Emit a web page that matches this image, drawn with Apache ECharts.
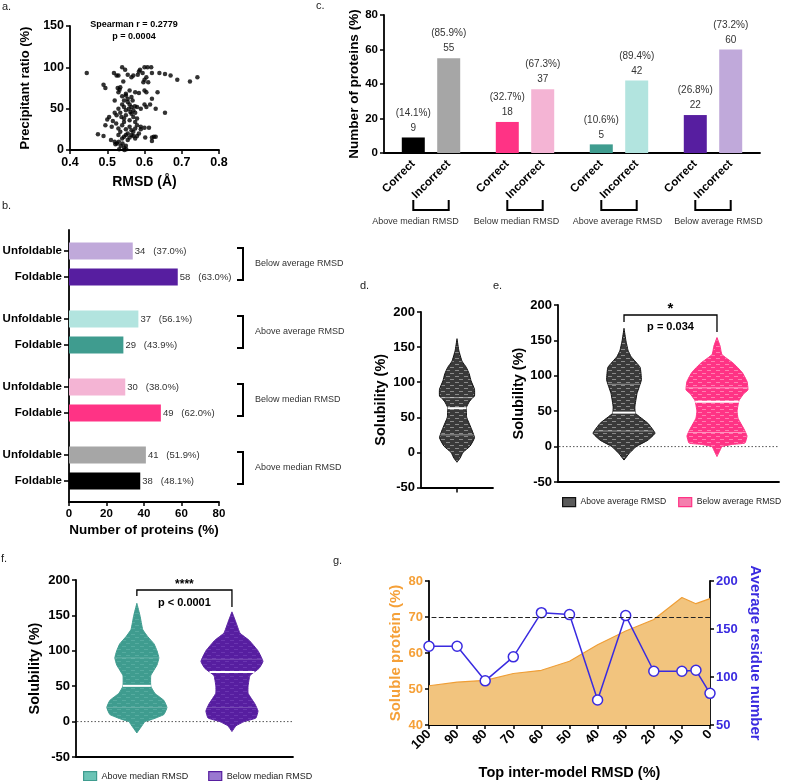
<!DOCTYPE html>
<html><head><meta charset="utf-8">
<script src="https://cdn.jsdelivr.net/npm/echarts/dist/echarts.min.js"></script>
<style>html,body{margin:0;padding:0;background:#fff}#c{width:787px;height:781px}</style>
</head><body><div id="c"></div>
<script>
const FONT = '"Liberation Sans", Arial, Helvetica, sans-serif';

// ---------- Panel a: scatter ----------
const rmsdA = [0.445,0.475,0.490,0.490,0.495,0.495,0.500,0.505,0.510,0.512,0.515,0.518,0.520,0.520,0.520,0.522,0.524,0.525,0.525,0.526,
0.528,0.530,0.530,0.530,0.530,0.530,0.531,0.532,0.533,0.535,0.535,0.535,0.536,0.538,0.540,0.540,0.540,0.540,0.540,0.541,
0.543,0.545,0.545,0.545,0.545,0.545,0.545,0.546,0.548,0.550,0.550,0.550,0.550,0.550,0.550,0.550,0.551,0.555,0.555,0.555,
0.555,0.555,0.558,0.560,0.560,0.560,0.560,0.560,0.562,0.565,0.565,0.565,0.565,0.565,0.565,0.568,0.570,0.570,0.570,0.570,
0.570,0.574,0.575,0.575,0.575,0.575,0.575,0.580,0.580,0.580,0.580,0.582,0.585,0.585,0.585,0.588,0.590,0.590,0.590,0.595,
0.597,0.600,0.600,0.600,0.600,0.600,0.602,0.605,0.605,0.605,0.608,0.610,0.612,0.615,0.618,0.620,0.620,0.620,0.620,0.625,
0.630,0.630,0.635,0.640,0.655,0.655,0.670,0.688,0.722,0.742];
const precipA = [93,19,17,79,75,30,37,40,12,28,35,93,60,45,10,7,32,90,42,8,
75,90,70,50,26,18,10,1,73,76,45,22,5,40,100,65,55,30,14,8,
83,60,52,38,34,16,3,0,97,68,66,48,42,25,18,5,1,91,62,58,
20,12,50,72,55,36,28,15,46,88,64,52,44,24,18,60,90,48,40,22,
17,53,70,45,34,26,14,52,38,30,17,91,95,69,20,97,50,28,25,93,
82,100,85,72,55,27,15,88,70,52,100,82,27,55,100,93,62,15,11,16,
50,16,70,93,92,45,90,85,83,88];

// ---------- Panel b: horizontal bars ----------
const bGroups = ['Above median RMSD','Below median RMSD','Above average RMSD','Below average RMSD'];
const bFoldable = [38,49,29,58];
const bFoldablePct = ['48.1%','62.0%','43.9%','63.0%'];
const bUnfoldable = [41,30,37,34];
const bUnfoldablePct = ['51.9%','38.0%','56.1%','37.0%'];
const bTickLabels = ['Foldable','Unfoldable'];

// ---------- Panel c: vertical bars ----------
const cGroups = ['Above median RMSD','Below median RMSD','Above average RMSD','Below average RMSD'];
const cCorrect = [9,18,5,22];
const cCorrectPct = ['14.1%','32.7%','10.6%','26.8%'];
const cIncorrect = [55,37,42,60];
const cIncorrectPct = ['85.9%','67.3%','89.4%','73.2%'];
const cTickLabels = ['Correct','Incorrect'];

// ---------- Panels d, e, f: violin profiles (solubility level, relative density) ----------
const dLevels  = [-14,-8,0,9,21,35,50,64,72,78,80,90,102,112,121,130,145,162];
const dDensity = [0,0.10,0.19,0.42,0.56,0.45,0.31,0.30,0.39,0.50,0.56,0.56,0.45,0.39,0.30,0.16,0.06,0];
const dMedian = 63, dQuartiles = [25,78];

const eCats = ['Above average RMSD','Below average RMSD'];
const eALevels  = [-19,-10,0,9,19,33,47,56,75,94,112,127,136,150,167];
const eADensity = [0,0.16,0.39,0.77,1.0,0.77,0.37,0.35,0.42,0.56,0.52,0.23,0.13,0.06,0];
const eAMedian = 48, eAQuartiles = [22,88];
const eBLevels  = [-14,-5,0,3,5,15,25,40,50,65,75,80,92,105,118,130,142,154];
const eBDensity = [0,0.10,0.16,0.48,0.90,0.97,0.87,0.68,0.65,0.71,0.87,1.0,0.97,0.81,0.52,0.16,0.10,0];
const eBMedian = 63.5, eBQuartiles = [20,83];

const fCats = ['Above median RMSD','Below median RMSD'];
const fALevels  = [-16,-8,0,3,10,20,30,40,50,65,80,90,100,110,120,130,150,167];
const fADensity = [0,0.13,0.26,0.48,0.87,0.97,0.87,0.58,0.45,0.45,0.65,0.71,0.65,0.55,0.35,0.19,0.10,0];
const fAMedian = 50.5, fAQuartiles = [20,90];
const fBLevels  = [-14,-6,0,5,15,25,40,50,65,75,85,100,115,125,140,155];
const fBDensity = [0,0.13,0.39,0.77,0.84,0.74,0.52,0.52,0.58,0.87,1.0,0.84,0.55,0.26,0.13,0];
const fBMedian = 70, fBQuartiles = [20,88];

// ---------- Panel g ----------
const gTopRmsd  = [100,90,80,70,60,50,40,30,20,10,5,0];
const gSoluble  = [50.9,51.9,52.4,54.3,55.2,57.7,62.3,66.1,69.3,75.4,73.7,75.1];
const gResidues = [132,132,96,121,167,165,76,164,106,106,107,83];
const gThreshold = 70;

// ---------- styles ----------
const darkColors  = ['#000000','#FF3385','#3F9C8F','#571EA0'];
const lightColors = ['#A6A6A6','#F4B4D4','#B2E4DF','#C0A9DA'];
const ORANGE = '#F5A038', BLUE = '#3A2BE0';

// small fixed texture tiles imitating the plotted points inside the violins
function texture(bg, fg){
  const cv = document.createElement('canvas');
  cv.width = 9; cv.height = 6;
  const ctx = cv.getContext('2d');
  ctx.fillStyle = bg; ctx.fillRect(0,0,9,6);
  ctx.strokeStyle = fg; ctx.lineWidth = 1;
  ctx.beginPath(); ctx.moveTo(0,1.5); ctx.lineTo(4,1.5); ctx.moveTo(5,4.5); ctx.lineTo(9,4.5); ctx.stroke();
  return {image: cv, repeat: 'repeat'};
}

function axisLine(){ return {show:true, onZero:false, lineStyle:{color:'#000', width:1.8}}; }
function axisTick(){ return {show:true, length:4, lineStyle:{color:'#000', width:1.5}}; }
function lbl(size, color){ return {color: color||'#000', fontWeight:'bold', fontSize:size, fontFamily:FONT, margin:6}; }
function nameStyle(size, color){ return {color: color||'#000', fontWeight:'bold', fontSize:size, fontFamily:FONT}; }

function violin(levels, dens, k, median, quart, fill, stroke, qColor){
  function densAt(v){
    for (let i=0;i<levels.length-1;i++){
      if (v>=levels[i] && v<=levels[i+1]){ const t=(v-levels[i])/(levels[i+1]-levels[i]); return dens[i]+(dens[i+1]-dens[i])*t; }
    }
    return 0;
  }
  return function(params, api){
    const cat = api.value(0);
    const unit = api.size([1,0])[0];
    const L=[], R=[];
    for (let i=0;i<levels.length;i++){
      const c = api.coord([cat, levels[i]]);
      const w = dens[i]*unit*k;
      L.push([c[0]-w, c[1]]); R.push([c[0]+w, c[1]]);
    }
    const pts = L.concat(R.reverse());
    const children = [{type:'polygon', shape:{points:pts, smooth:0.12}, style:{fill:fill, stroke:stroke, lineWidth:1}}];
    quart.forEach(function(q){
      const c = api.coord([cat,q]); const w = densAt(q)*unit*k;
      children.push({type:'line', shape:{x1:c[0]-w, y1:c[1], x2:c[0]+w, y2:c[1]}, style:{stroke:qColor, lineWidth:1}});
    });
    const m = api.coord([cat, median]); const wm = densAt(median)*unit*k;
    children.push({type:'line', shape:{x1:m[0]-wm, y1:m[1], x2:m[0]+wm, y2:m[1]}, style:{stroke:'#fff', lineWidth:2}});
    return {type:'group', children:children};
  };
}

const solAxis = function(gi, gap){
  return {type:'value', gridIndex:gi, min:-50, max:200, interval:50, splitLine:{show:false},
    axisLine:axisLine(), axisTick:axisTick(), axisLabel:lbl(13),
    name:'Solubility (%)', nameLocation:'middle', nameGap:gap, nameTextStyle:nameStyle(14.5)};
};

const option = {
  animation:false,
  backgroundColor:'#fff',
  textStyle:{fontFamily:FONT},
  grid:[
    {left:70, top:26, width:149, height:124},
    {left:69, top:230, width:150, height:272},
    {left:384, top:15, width:376, height:138},
    {left:421, top:312, width:72, height:175.5},
    {left:558, top:305, width:221, height:177},
    {left:76, top:580, width:217, height:177},
    {left:429, top:581, width:281, height:145}
  ],
  xAxis:[
    {type:'value', gridIndex:0, min:0.4, max:0.8, interval:0.1, splitLine:{show:false}, axisLine:axisLine(), axisTick:axisTick(),
     axisLabel:Object.assign(lbl(12.5),{formatter:function(v){return v.toFixed(1);}}),
     name:'RMSD (Å)', nameLocation:'middle', nameGap:25, nameTextStyle:nameStyle(14)},
    {type:'value', gridIndex:1, min:0, max:80, interval:20, splitLine:{show:false}, axisLine:axisLine(), axisTick:axisTick(),
     axisLabel:lbl(11.5), name:'Number of proteins (%)', nameLocation:'middle', nameGap:21, nameTextStyle:nameStyle(13.5)},
    {type:'category', gridIndex:2, data:cGroups, axisLine:axisLine(), axisTick:{show:false}, axisLabel:{show:false}},
    {type:'category', gridIndex:3, data:['All proteins'], axisLine:axisLine(), axisTick:{show:true, alignWithLabel:true, length:5, lineStyle:{color:'#000', width:1.5}}, axisLabel:{show:false}},
    {type:'value', gridIndex:4, min:-0.71, max:1.667, axisLine:axisLine(), axisTick:{show:false}, axisLabel:{show:false}, splitLine:{show:false}},
    {type:'value', gridIndex:5, min:-0.64, max:1.642, axisLine:axisLine(), axisTick:{show:false}, axisLabel:{show:false}, splitLine:{show:false}},
    {type:'value', gridIndex:6, min:0, max:100, interval:10, inverse:true, splitLine:{show:false}, axisLine:axisLine(), axisTick:axisTick(),
     axisLabel:Object.assign(lbl(13),{rotate:45, margin:7}),
     name:'Top inter-model RMSD (%)', nameLocation:'middle', nameGap:40, nameTextStyle:nameStyle(14.5)}
  ],
  yAxis:[
    {type:'value', gridIndex:0, min:0, max:150, interval:50, splitLine:{show:false}, axisLine:axisLine(), axisTick:axisTick(),
     axisLabel:lbl(12.5), name:'Precipitant ratio (%)', nameLocation:'middle', nameGap:38, nameTextStyle:nameStyle(13)},
    {type:'category', gridIndex:1, data:bGroups, axisLine:axisLine(), axisTick:{show:false}, axisLabel:{show:false}},
    {type:'value', gridIndex:2, min:0, max:80, interval:20, splitLine:{show:false}, axisLine:axisLine(), axisTick:axisTick(),
     axisLabel:lbl(11.5), name:'Number of proteins (%)', nameLocation:'middle', nameGap:20, nameTextStyle:nameStyle(13.5)},
    solAxis(3, 33),
    solAxis(4, 26),
    solAxis(5, 34),
    {type:'value', gridIndex:6, position:'left', min:40, max:80, interval:10, splitLine:{show:false}, axisLine:axisLine(), axisTick:axisTick(),
     axisLabel:lbl(13, ORANGE), name:'Soluble protein (%)', nameLocation:'middle', nameGap:26, nameTextStyle:nameStyle(15, ORANGE)},
    {type:'value', gridIndex:6, position:'right', min:50, max:200, interval:50, splitLine:{show:false}, axisLine:axisLine(), axisTick:axisTick(),
     axisLabel:lbl(13, BLUE), name:'Average residue number', nameLocation:'middle', nameRotate:-90, nameGap:38, nameTextStyle:nameStyle(15, BLUE)}
  ],
  legend:[
    {selectedMode:false, orient:'horizontal', left:562, top:497, width:300, itemWidth:13, itemHeight:9, itemGap:12, icon:'rect', padding:0,
     textStyle:{fontSize:8.6, color:'#222', fontFamily:FONT},
     data:[{name:eCats[0], itemStyle:{color:'#5a5a5a', borderColor:'#111', borderWidth:1.2}},
           {name:eCats[1], itemStyle:{color:'#F47FAE', borderColor:'#FF3385', borderWidth:1.2}}]},
    {selectedMode:false, orient:'horizontal', left:83, top:771, width:300, itemWidth:13, itemHeight:9, itemGap:20, icon:'rect', padding:0,
     textStyle:{fontSize:9, color:'#222', fontFamily:FONT},
     data:[{name:fCats[0], itemStyle:{color:'#6CC4B6', borderColor:'#3F9C8F', borderWidth:1.2}},
           {name:fCats[1], itemStyle:{color:'#9A78D0', borderColor:'#571EA0', borderWidth:1.2}}]}
  ],
  series:[
    {type:'scatter', xAxisIndex:0, yAxisIndex:0, symbolSize:4.5, itemStyle:{color:'#000'},
     data: rmsdA.map(function(x,i){return [x, precipA[i]];})},

    // panel b (Unfoldable stack first so it sits above Foldable)
    {type:'bar', xAxisIndex:1, yAxisIndex:1, stack:'bu', barWidth:17, barGap:'53%', silent:true,
     data: bUnfoldable.map(function(){return 0;}), itemStyle:{color:'rgba(0,0,0,0)'},
     label:{show:true, position:'left', distance:0, formatter:'{a|'+bTickLabels[1]+'}{t|}',
       rich:{a:{fontWeight:'bold', fontSize:11.5, color:'#000', fontFamily:FONT, padding:[0,2,0,0]}, t:{width:5, height:1.6, backgroundColor:'#000'}}}},
    {type:'bar', name:'Unfoldable', xAxisIndex:1, yAxisIndex:1, stack:'bu', barWidth:17, barGap:'53%',
     data: bUnfoldable.map(function(v,i){return {value:v, itemStyle:{color:lightColors[i]}};}),
     label:{show:true, position:'right', distance:2, fontSize:9.5, color:'#333', fontFamily:FONT,
       formatter:function(p){return p.value+'   ('+bUnfoldablePct[p.dataIndex]+')';}}},
    {type:'bar', xAxisIndex:1, yAxisIndex:1, stack:'bf', barWidth:17, barGap:'53%', silent:true,
     data: bFoldable.map(function(){return 0;}), itemStyle:{color:'rgba(0,0,0,0)'},
     label:{show:true, position:'left', distance:0, formatter:'{a|'+bTickLabels[0]+'}{t|}',
       rich:{a:{fontWeight:'bold', fontSize:11.5, color:'#000', fontFamily:FONT, padding:[0,2,0,0]}, t:{width:5, height:1.6, backgroundColor:'#000'}}}},
    {type:'bar', name:'Foldable', xAxisIndex:1, yAxisIndex:1, stack:'bf', barWidth:17, barGap:'53%',
     data: bFoldable.map(function(v,i){return {value:v, itemStyle:{color:darkColors[i]}};}),
     label:{show:true, position:'right', distance:2, fontSize:9.5, color:'#333', fontFamily:FONT,
       formatter:function(p){return p.value+'   ('+bFoldablePct[p.dataIndex]+')';}}},

    // panel c
    {type:'bar', xAxisIndex:2, yAxisIndex:2, stack:'cc', barWidth:23, barGap:'54%', silent:true,
     data: cCorrect.map(function(){return 0;}), itemStyle:{color:'rgba(0,0,0,0)'},
     label:{show:true, position:'bottom', distance:9, rotate:45, align:'right', verticalAlign:'middle',
       formatter:cTickLabels[0], fontWeight:'bold', fontSize:11.5, color:'#000', fontFamily:FONT}},
    {type:'bar', name:'Correct', xAxisIndex:2, yAxisIndex:2, stack:'cc', barWidth:23, barGap:'54%',
     data: cCorrect.map(function(v,i){return {value:v, itemStyle:{color:darkColors[i]}};}),
     label:{show:true, position:'top', distance:2, fontSize:10, lineHeight:15, color:'#333', fontFamily:FONT,
       formatter:function(p){return '('+cCorrectPct[p.dataIndex]+')\n'+p.value;}}},
    {type:'bar', xAxisIndex:2, yAxisIndex:2, stack:'ci', barWidth:23, barGap:'54%', silent:true,
     data: cIncorrect.map(function(){return 0;}), itemStyle:{color:'rgba(0,0,0,0)'},
     label:{show:true, position:'bottom', distance:9, rotate:45, align:'right', verticalAlign:'middle',
       formatter:cTickLabels[1], fontWeight:'bold', fontSize:11.5, color:'#000', fontFamily:FONT}},
    {type:'bar', name:'Incorrect', xAxisIndex:2, yAxisIndex:2, stack:'ci', barWidth:23, barGap:'54%',
     data: cIncorrect.map(function(v,i){return {value:v, itemStyle:{color:lightColors[i]}};}),
     label:{show:true, position:'top', distance:2, fontSize:10, lineHeight:15, color:'#333', fontFamily:FONT,
       formatter:function(p){return '('+cIncorrectPct[p.dataIndex]+')\n'+p.value;}}},

    // violins
    {type:'custom', name:'All proteins', xAxisIndex:3, yAxisIndex:3, silent:true, data:[[0, dMedian]], encode:{x:0, y:1},
     renderItem: violin(dLevels, dDensity, 0.434, dMedian, dQuartiles, texture('#3a3a3a','#8a8a8a'), '#111', 'rgba(255,255,255,0.5)')},
    {type:'custom', name:eCats[0], xAxisIndex:4, yAxisIndex:4, silent:true, data:[[0, eAMedian]], encode:{x:0, y:1},
     itemStyle:{color:'#5a5a5a'},
     renderItem: violin(eALevels, eADensity, 0.333, eAMedian, eAQuartiles, texture('#3a3a3a','#8a8a8a'), '#111', 'rgba(255,255,255,0.45)')},
    {type:'custom', name:eCats[1], xAxisIndex:4, yAxisIndex:4, silent:true, data:[[1, eBMedian]], encode:{x:0, y:1},
     itemStyle:{color:'#F47FAE'},
     renderItem: violin(eBLevels, eBDensity, 0.333, eBMedian, eBQuartiles, texture('#FF3385','#FF7FB0'), '#FF3385', 'rgba(255,255,255,0.5)')},
    {type:'custom', name:fCats[0], xAxisIndex:5, yAxisIndex:5, silent:true, data:[[0, fAMedian]], encode:{x:0, y:1},
     itemStyle:{color:'#6CC4B6'},
     renderItem: violin(fALevels, fADensity, 0.326, fAMedian, fAQuartiles, texture('#3F9C8F','#55AB9F'), '#3F9C8F', 'rgba(255,255,255,0.2)')},
    {type:'custom', name:fCats[1], xAxisIndex:5, yAxisIndex:5, silent:true, data:[[1, fBMedian]], encode:{x:0, y:1},
     itemStyle:{color:'#9A78D0'},
     renderItem: violin(fBLevels, fBDensity, 0.326, fBMedian, fBQuartiles, texture('#571EA0','#6A35B0'), '#571EA0', 'rgba(255,255,255,0.2)')},

    // panel g
    {type:'line', xAxisIndex:6, yAxisIndex:6, symbol:'none', z:2,
     data: gTopRmsd.map(function(x,i){return [x, gSoluble[i]];}),
     lineStyle:{color:'#EF9E36', width:1.2}, areaStyle:{color:'#F2C47E', opacity:1},
     markLine:{silent:true, symbol:['none','none'], label:{show:false}, lineStyle:{type:'dashed', color:'#222', width:1.2},
       data:[{yAxis:gThreshold}]}},
    {type:'line', xAxisIndex:6, yAxisIndex:7, symbol:'circle', symbolSize:10, z:3,
     data: gTopRmsd.map(function(x,i){return [x, gResidues[i]];}),
     itemStyle:{color:'#fff', borderColor:BLUE, borderWidth:1.5}, lineStyle:{color:BLUE, width:1.5}}
  ]
};

const chart = echarts.init(document.getElementById('c'), null, {renderer:'canvas'});
chart.setOption(option);

// ---------- annotations (positions from the chart's own scales) ----------
const G = [];
function px(gi, x, y){ return chart.convertToPixel({xAxisIndex:gi, yAxisIndex:gi}, [x, y]); }
function text(x, y, t, font, align, fill){
  G.push({type:'text', x:x, y:y, z:100, silent:true,
    style:{text:t, font:font, fill:fill||'#222', align:align||'left', verticalAlign:'middle'}});
}
function poly(points, width){
  G.push({type:'polyline', z:100, silent:true, shape:{points:points},
    style:{stroke:'#000', lineWidth:width||2, fill:null}});
}

// panel letters
text(2, 7, 'a.', '11px '+FONT);
text(2, 206, 'b.', '11px '+FONT);
text(316, 6, 'c.', '11px '+FONT);
text(360, 286, 'd.', '11px '+FONT);
text(493, 286, 'e.', '11px '+FONT);
text(1, 559, 'f.', '11px '+FONT);
text(333, 561, 'g.', '11px '+FONT);

// panel a annotation
text(134, 25, 'Spearman r = 0.2779', 'bold 9px '+FONT, 'center', '#000');
text(134, 37, 'p = 0.0004', 'bold 9px '+FONT, 'center', '#000');

// panel b brackets
bGroups.forEach(function(g, i){
  const c = px(1, 80, i);
  const bx = c[0] + 24, cy = c[1];
  poly([[bx-6, cy-16],[bx, cy-16],[bx, cy+16],[bx-6, cy+16]], 2);
  text(bx + 12, cy, g, '9px '+FONT, 'left', '#333');
});

// panel c brackets
const cOff = 23 * 1.54 / 2;
cGroups.forEach(function(g, i){
  const c = px(2, i, 0);
  const y0 = c[1];
  poly([[c[0]-cOff, y0+47],[c[0]-cOff, y0+57],[c[0]+cOff, y0+57],[c[0]+cOff, y0+47]], 2);
  text(c[0] + (i-1.5)*7 - 5, y0+69, g, '9px '+FONT, 'center', '#333');
});

// dotted zero lines e, f
[[4, -0.71, 1.667], [5, -0.64, 1.642]].forEach(function(a){
  const l = px(a[0], a[1], 0), r = px(a[0], a[2], 0);
  G.push({type:'line', z:-1, silent:true, shape:{x1:l[0]+1, y1:l[1], x2:r[0], y2:r[1]},
    style:{stroke:'#555', lineWidth:1, lineDash:[1.5,2]}});
});

// significance brackets
(function(){
  const a = px(4, 0, 0), b = px(4, 1, 0);
  poly([[a[0], 322],[a[0], 315],[b[0], 315],[b[0], 332]], 1.3);
  text((a[0]+b[0])/2, 309, '*', 'bold 15px '+FONT, 'center', '#000');
  text((a[0]+b[0])/2, 327, 'p = 0.034', 'bold 11px '+FONT, 'center', '#000');
  const c = px(5, 0, 0), d = px(5, 1, 0);
  poly([[c[0], 596],[c[0], 590],[d[0], 590],[d[0], 607]], 1.3);
  text((c[0]+d[0])/2, 585, '****', 'bold 12px '+FONT, 'center', '#000');
  text((c[0]+d[0])/2, 603, 'p < 0.0001', 'bold 11px '+FONT, 'center', '#000');
})();

chart.setOption({graphic:{elements:G}});
</script></body></html>
